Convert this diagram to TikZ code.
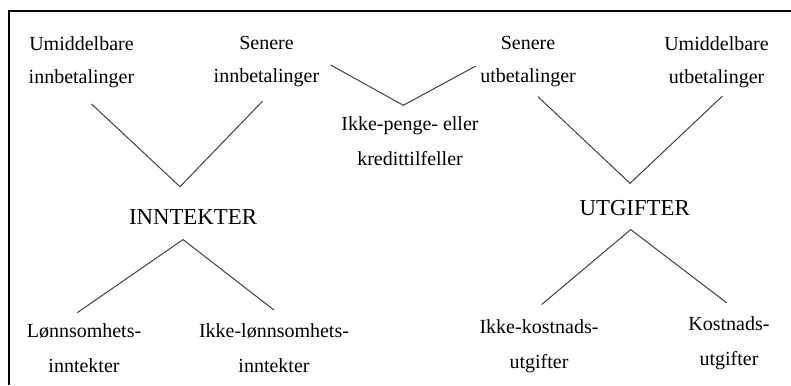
\documentclass[tikz,border=0pt]{standalone}
\usepackage{fontspec}
\setmainfont{Liberation Serif}

\begin{document}
\begin{tikzpicture}[x=0.5pt, y=-0.5pt,
      lbl/.style={font=\fontsize{10}{17.5}\selectfont, align=center, inner sep=0pt},
      lbltop/.style={lbl, font=\fontsize{10}{16.5}\selectfont},
      hdr/.style={font=\fontsize{11.4}{13}\selectfont, inner sep=0pt},
      link/.style={draw=black!75, line width=0.5pt},
    ]
    \useasboundingbox (0,0) rectangle (791,385);

    % Frame, top and left side only
    \draw[line width=1pt] (9,385) -- (9,11) -- (791,11);

    % Payments, top row
    \node[lbltop] (umIn) at (81.5, 62) {Umiddelbare\\innbetalinger};
    \node[lbltop] (seIn) at (266.5, 62) {Senere\\innbetalinger};
    \node[lbltop] (seUt) at (528, 62) {Senere\\utbetalinger};
    \node[lbltop] (umUt) at (716.5, 62) {Umiddelbare\\utbetalinger};
    \node[lbl] (ikP) at (410, 141) {Ikke-penge- eller\\kredittilfeller};

    % Main categories
    \node[hdr] (inn) at (193, 216.7) {INNTEKTER};
    \node[hdr] (utg) at (634.7, 208) {UTGIFTER};

    % Subcategories, bottom row
    \node[lbl] (lon) at (84, 347.8) {Lønnsomhets-\\inntekter};
    \node[lbl] (ikL) at (274, 347.8) {Ikke-lønnsomhets-\\inntekter};
    \node[lbl] (ikK) at (539, 346.5) {Ikke-kostnads-\\utgifter};
    \node[lbl] (kos) at (729, 343.2) {Kostnads-\\utgifter};

    % Vertices of the V shapes
    \coordinate (vIn) at (180, 186.7);
    \coordinate (vMid) at (403.3, 105.3);
    \coordinate (vUt) at (630, 183.3);

    % V lines
    \draw[link] ([shift={(10,16)}]umIn.south) -- (vIn) -- ([shift={(-4,13.5)}]seIn.south);
    \draw[link] ([shift={(11,3)}]seIn.east) -- (vMid) -- ([shift={(-4,4)}]seUt.west);
    \draw[link] ([shift={(10,9)}]seUt.south) -- (vUt) -- ([shift={(6,8)}]umUt.south);

    % Branches below
    \draw[link] ([shift={(-6.7,-10.2)}]lon.north) -- ([shift={(-10,15)}]inn.south)
      -- ([shift={(0,-12.8)}]ikL.north);
    \draw[link] ([shift={(2.7,-15)}]ikK.north) -- ([shift={(-4,13.5)}]utg.south)
      -- ([shift={(-2.3,-13.4)}]kos.north);
  \end{tikzpicture}
\end{document}
